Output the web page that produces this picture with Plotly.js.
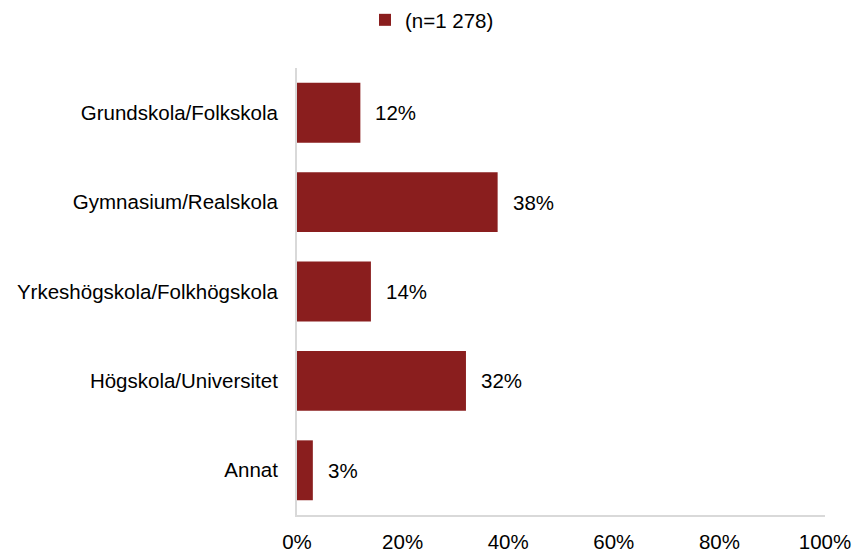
<!DOCTYPE html>
<html>
<head>
<meta charset="utf-8">
<script src="https://cdn.plot.ly/plotly-3.0.1.min.js"></script>
<style>html,body{margin:0;padding:0;background:#fff;}#chart{width:855px;height:552px;}</style>
</head>
<body>
<div id="chart"></div>
<script>
const categories = ['Grundskola/Folkskola', 'Gymnasium/Realskola', 'Yrkeshögskola/Folkhögskola', 'Högskola/Universitet', 'Annat'];
const values = [12, 38, 14, 32, 3];
const valueLabels = ['12%', '38%', '14%', '32%', '3%'];
const seriesName = '(n=1 278)';
const xTicks = [0, 20, 40, 60, 80, 100];
const xTickLabels = ['0%', '20%', '40%', '60%', '80%', '100%'];

const FONT = 'Liberation Sans, Arial, sans-serif';
const FS = 20.5;

const trace = {
  type: 'bar',
  orientation: 'h',
  y: categories,
  x: values,
  name: seriesName,
  marker: {color: '#8a1e1e'},
  hoverinfo: 'none',
  showlegend: true
};

const annotations = values.map((v, i) => ({
  x: v, y: categories[i], xref: 'x', yref: 'y',
  text: valueLabels[i], showarrow: false,
  xanchor: 'left', yanchor: 'middle', xshift: 13,
  font: {family: FONT, size: FS, color: '#000'}
}));

const layout = {
  width: 855, height: 552,
  paper_bgcolor: '#fff', plot_bgcolor: '#fff',
  margin: {l: 297, r: 30, t: 68, b: 37, pad: 0},
  font: {family: FONT, size: FS, color: '#000'},
  bargap: 0.33,
  showlegend: true,
  legend: {
    orientation: 'h', xref: 'container', yref: 'container',
    x: 365/855, xanchor: 'left', y: 1, yanchor: 'top',
    font: {family: FONT, size: FS, color: '#000'},
    itemclick: false, itemdoubleclick: false
  },
  xaxis: {
    range: [0, 100], tickvals: xTicks, ticktext: xTickLabels,
    showgrid: false, zeroline: false, showline: true,
    linecolor: '#d9d9d9', linewidth: 2, ticks: '',
    ticklabelstandoff: 7, fixedrange: true
  },
  yaxis: {
    autorange: 'reversed', showgrid: false, zeroline: false,
    showline: true, linecolor: '#d9d9d9', linewidth: 2, ticks: '',
    ticklabelstandoff: 13, fixedrange: true
  },
  annotations: annotations
};

Plotly.newPlot('chart', [trace], layout, {staticPlot: true, displayModeBar: false});
</script>
</body>
</html>
